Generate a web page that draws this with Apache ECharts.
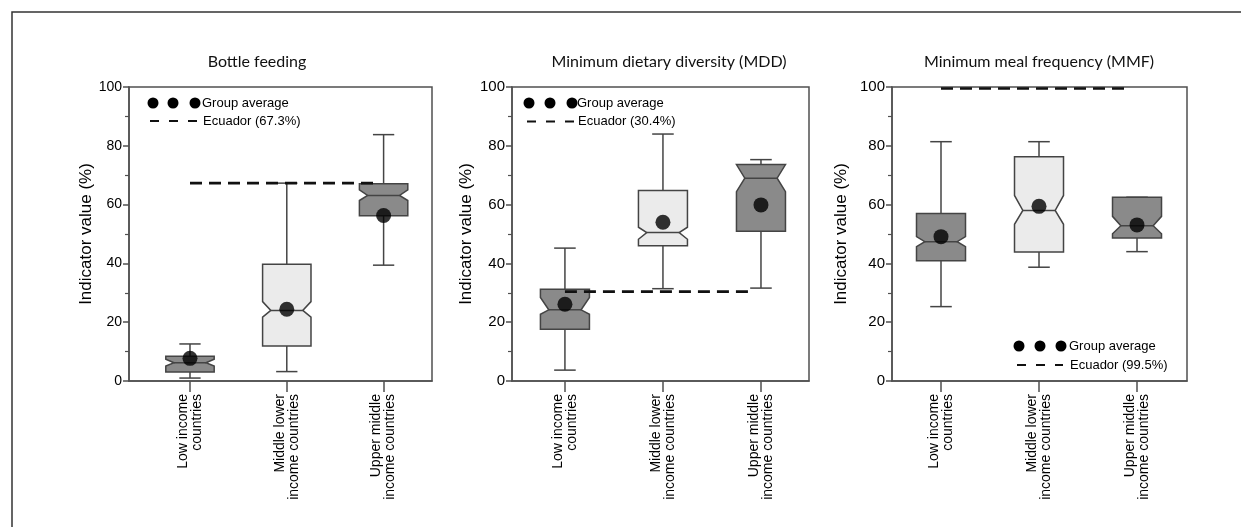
<!DOCTYPE html>
<html>
<head>
<meta charset="utf-8">
<script src="https://cdn.jsdelivr.net/npm/echarts@6/dist/echarts.min.js"></script>
<style>
html,body{margin:0;padding:0;background:#fff;}
#chart{width:1241px;height:527px;}
</style>
</head>
<body>
<div id="chart"></div>
<script>
// ---- data ----
const categories = ['Low income\ncountries', 'Middle lower\nincome countries', 'Upper middle\nincome countries'];
const panelTitles = ['Bottle feeding', 'Minimum dietary diversity (MDD)', 'Minimum meal frequency (MMF)'];
const yTicks = [0, 20, 40, 60, 80, 100];

// Bottle feeding
const bfWhiskerLow  = [1.0, 3.2, 39.4];
const bfQ1          = [3.1, 11.9, 56.2];
const bfNotchLow    = [5.1, 21.7, 61.4];
const bfMedian      = [6.2, 24.0, 63.1];
const bfNotchHigh   = [7.4, 27.0, 65.0];
const bfQ3          = [8.4, 39.7, 67.1];
const bfWhiskerHigh = [12.6, 67.3, 83.8];
const bfMean        = [7.7, 24.4, 56.3];
const bfEcuador     = 67.3;

// Minimum dietary diversity
const mddWhiskerLow  = [3.7, 31.4, 31.6];
const mddQ1          = [17.6, 46.0, 50.9];
const mddNotchLow    = [22.7, 48.2, 64.4];
const mddMedian      = [24.2, 50.5, 69.0];
const mddNotchHigh   = [28.4, 52.3, 73.6];
const mddQ3          = [31.2, 64.8, 73.6];
const mddWhiskerHigh = [45.2, 84.0, 75.3];
const mddMean        = [26.1, 54.0, 59.9];
const mddEcuador     = 30.4;

// Minimum meal frequency
const mmfWhiskerLow  = [25.3, 38.7, 44.0];
const mmfQ1          = [40.9, 43.9, 48.6];
const mmfNotchLow    = [45.7, 53.3, 50.1];
const mmfMedian      = [47.4, 58.0, 52.8];
const mmfNotchHigh   = [49.1, 63.1, 56.0];
const mmfQ3          = [57.0, 76.3, 62.5];
const mmfWhiskerHigh = [81.4, 81.4, 62.5];
const mmfMean        = [49.1, 59.4, 53.1];
const mmfEcuador     = 99.5;

const ecuadorLabels = ['Ecuador (67.3%)', 'Ecuador (30.4%)', 'Ecuador (99.5%)'];

// ---- layout / style ----
const panels = [
  {wl: bfWhiskerLow, q1: bfQ1, nl: bfNotchLow, med: bfMedian, nh: bfNotchHigh, q3: bfQ3, wh: bfWhiskerHigh, mean: bfMean, ecu: bfEcuador},
  {wl: mddWhiskerLow, q1: mddQ1, nl: mddNotchLow, med: mddMedian, nh: mddNotchHigh, q3: mddQ3, wh: mddWhiskerHigh, mean: mddMean, ecu: mddEcuador},
  {wl: mmfWhiskerLow, q1: mmfQ1, nl: mmfNotchLow, med: mmfMedian, nh: mmfNotchHigh, q3: mmfQ3, wh: mmfWhiskerHigh, mean: mmfMean, ecu: mmfEcuador}
];
const gridBoxes = [
  {left: 129, top: 87, width: 303, height: 294},
  {left: 512, top: 87, width: 297, height: 294},
  {left: 892, top: 87, width: 295, height: 294}
];
const xRanges = [[0.37, 3.50], [0.46, 3.49], [0.50, 3.51]];
const nameGaps = [31, 37, 42];
const tickFont = [14, 15, 15];
const boxFills = ['#8a8a8a', '#ebebeb', '#8a8a8a'];
const AX = '#505050';
const FONT = 'Liberation Sans, Arial, sans-serif';

function renderBox(params, api) {
  const x = api.value(0);
  const wl = api.value(1), q1 = api.value(2), nl = api.value(3), md = api.value(4),
        nh = api.value(5), q3 = api.value(6), wh = api.value(7), fi = api.value(8);
  const halfW = api.size([0.5, 0])[0] / 2;
  const capW = api.size([0.22, 0])[0] / 2;
  const narrow = halfW * 0.66;
  const c = api.coord([x, 0])[0];
  const y = v => api.coord([x, v])[1];
  const lineStyle = {stroke: '#444', lineWidth: 1.5};
  const pts = [
    [c - halfW, y(q3)], [c + halfW, y(q3)], [c + halfW, y(nh)], [c + narrow, y(md)],
    [c + halfW, y(nl)], [c + halfW, y(q1)], [c - halfW, y(q1)], [c - halfW, y(nl)],
    [c - narrow, y(md)], [c - halfW, y(nh)]
  ];
  return {
    type: 'group',
    children: [
      {type: 'line', shape: {x1: c, y1: y(q3), x2: c, y2: y(wh)}, style: lineStyle},
      {type: 'line', shape: {x1: c - capW, y1: y(wh), x2: c + capW, y2: y(wh)}, style: lineStyle},
      {type: 'line', shape: {x1: c, y1: y(q1), x2: c, y2: y(wl)}, style: lineStyle},
      {type: 'line', shape: {x1: c - capW, y1: y(wl), x2: c + capW, y2: y(wl)}, style: lineStyle},
      {type: 'polygon', shape: {points: pts}, style: {fill: boxFills[fi], stroke: '#444', lineWidth: 1.5}},
      {type: 'line', shape: {x1: c - narrow, y1: y(md), x2: c + narrow, y2: y(md)}, style: {stroke: '#444', lineWidth: 1.5}}
    ]
  };
}

const grids = [], xAxes = [], yAxes = [], series = [], graphics = [];

panels.forEach((p, i) => {
  grids.push(Object.assign({show: true, borderColor: AX, borderWidth: 1.5, backgroundColor: '#fff'}, gridBoxes[i]));
  xAxes.push({
    type: 'value', gridIndex: i, min: xRanges[i][0], max: xRanges[i][1],
    splitLine: {show: false},
    axisLine: {show: true, lineStyle: {color: AX, width: 1.5}},
    axisTick: {show: true, customValues: [1, 2, 3], length: 11, lineStyle: {color: AX, width: 1.5}},
    axisLabel: {
      show: true, customValues: [1, 2, 3], rotate: 90, margin: 13,
      formatter: v => categories[Math.round(v) - 1] || '',
      color: '#000', fontFamily: FONT, fontSize: 14, lineHeight: 14
    }
  });
  yAxes.push({
    type: 'value', gridIndex: i, min: 0, max: 100, interval: 20,
    name: 'Indicator value (%)', nameLocation: 'middle', nameRotate: 90, nameGap: nameGaps[i],
    nameTextStyle: {fontFamily: FONT, fontSize: 17, color: '#000'},
    splitLine: {show: false},
    axisLine: {show: true, lineStyle: {color: AX, width: 1.5}},
    axisTick: {show: true, length: 6, lineStyle: {color: AX, width: 1.5}},
    minorTick: {show: true, splitNumber: 2, length: 4, lineStyle: {color: AX, width: 1.2}},
    axisLabel: {color: '#000', fontFamily: FONT, fontSize: tickFont[i], margin: 7}
  });
  const boxData = categories.map((c, k) => [k + 1, p.wl[k], p.q1[k], p.nl[k], p.med[k], p.nh[k], p.q3[k], p.wh[k], k]);
  series.push({
    type: 'custom', xAxisIndex: i, yAxisIndex: i, renderItem: renderBox, data: boxData, z: 2,
    encode: {x: 0, y: [1, 2, 3, 4, 5, 6, 7]}, silent: true
  });
  series.push({
    type: 'line', xAxisIndex: i, yAxisIndex: i, z: 3, symbol: 'none', silent: true,
    data: [[1, p.ecu], [2.9, p.ecu]],
    lineStyle: {color: '#111', width: 2.6, type: [12, 7]}
  });
  series.push({
    type: 'scatter', xAxisIndex: i, yAxisIndex: i, z: 4, symbol: 'circle', symbolSize: 15, silent: true,
    data: p.mean.map((m, k) => [k + 1, m]),
    itemStyle: {color: '#000'}
  });
});

// titles
const titleCenters = [257, 669, 1039];
panelTitles.forEach((t, i) => {
  graphics.push({type: 'text', x: titleCenters[i], y: 62,
    style: {text: t, font: '16px Lato, "Open Sans", sans-serif', fill: '#111', textAlign: 'center', textVerticalAlign: 'middle'}});
});

// legends
const legendPos = [
  {dots: [153, 173, 195], y1: 103, y2: 121, dash: [150, 197], tx: 202},
  {dots: [529, 550, 572], y1: 103, y2: 121.5, dash: [527, 574], tx: 577},
  {dots: [1019, 1040, 1061], y1: 346, y2: 365, dash: [1017, 1063], tx: 1069}
];
legendPos.forEach((L, i) => {
  L.dots.forEach(dx => graphics.push({type: 'circle', shape: {cx: dx, cy: L.y1, r: 5.5}, style: {fill: '#000'}, z: 10}));
  graphics.push({type: 'text', x: L.tx, y: L.y1, z: 10,
    style: {text: 'Group average', font: '13px ' + FONT, fill: '#000', textVerticalAlign: 'middle'}});
  graphics.push({type: 'line', shape: {x1: L.dash[0], y1: L.y2, x2: L.dash[1], y2: L.y2}, z: 10,
    style: {stroke: '#111', lineWidth: 2, lineDash: [9, 10]}});
  graphics.push({type: 'text', x: L.tx + 1, y: L.y2, z: 10,
    style: {text: ecuadorLabels[i], font: '13px ' + FONT, fill: '#000', textVerticalAlign: 'middle'}});
});

// outer frame
graphics.push({type: 'polyline', shape: {points: [[12, 527], [12, 12], [1241, 12]]}, style: {stroke: '#333', lineWidth: 1.5, fill: null}});

const chart = echarts.init(document.getElementById('chart'), null, {renderer: 'canvas'});
chart.setOption({
  animation: false,
  backgroundColor: '#fff',
  grid: grids,
  xAxis: xAxes,
  yAxis: yAxes,
  series: series,
  graphic: {elements: graphics}
});
</script>
</body>
</html>
